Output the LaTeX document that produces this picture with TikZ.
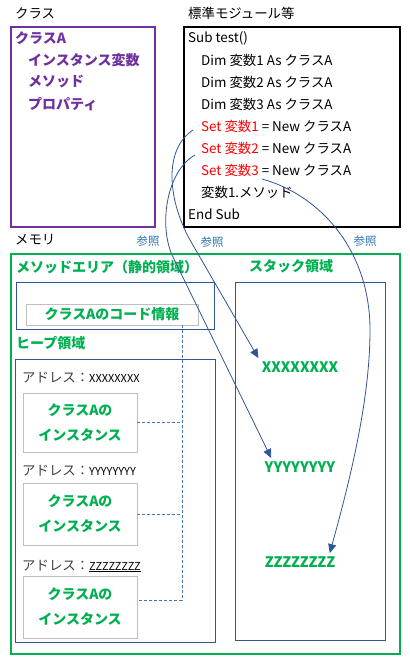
\documentclass[tikz,border=0pt]{standalone}
\usepackage{fontspec}
\setmainfont{Noto Sans CJK JP}
\usetikzlibrary{arrows.meta}
\definecolor{clspurple}{HTML}{7030A0}
\definecolor{memgreen}{HTML}{00B050}
\definecolor{areablue}{HTML}{2F5597}
\definecolor{dashblue}{HTML}{4472C4}
\definecolor{refblue}{HTML}{2E75B6}
\definecolor{boxgray}{HTML}{BFBFBF}
\definecolor{setred}{HTML}{FF0000}
\definecolor{addrgray}{HTML}{404040}
\begin{document}
\begin{tikzpicture}[x=1pt,y=-1pt,
  txt/.style={anchor=west, inner sep=0pt, font=\fontsize{13.4}{15}\selectfont},
  bold/.style={txt, font=\fontsize{14}{15}\selectfont\bfseries},
  ref/.style={inner sep=0pt, text=refblue, font=\fontsize{11.5}{13}\selectfont},
  frame/.style={line width=2pt},
  area/.style={draw=areablue, line width=0.8pt},
  inst/.style={draw=boxgray, line width=0.8pt, minimum width=114pt, align=center,
    text=memgreen, font=\fontsize{14}{25}\selectfont\bfseries},
  val/.style={text=memgreen, font=\fontsize{14.5}{16}\selectfont\bfseries},
  dashline/.style={draw=dashblue, dash pattern=on 3pt off 2pt, line width=0.7pt},
  refarrow/.style={draw=areablue, line width=0.8pt, -{Triangle[length=9pt,width=8pt]}}]
\useasboundingbox (0,0) rectangle (409,660);
% class
\node[txt] (clsTitle) at (15,13) {クラス};
\draw[frame, clspurple] (11,27) rectangle (155,227);
\node[bold, text=clspurple] (clsName) at (15,38) {クラスA};
\node[bold, text=clspurple] (clsVar) at (28,60) {インスタンス変数};
\node[bold, text=clspurple] (clsMeth) at (28,82) {メソッド};
\node[bold, text=clspurple] (clsProp) at (28,104) {プロパティ};
% module
\node[txt] (modTitle) at (188,13) {標準モジュール等};
\draw[frame] (184,27) rectangle (400,227);
\node[txt] (code0) at (188,38) {Sub test()};
\node[txt] (code1) at (201,60) {Dim 変数1 As クラスA};
\node[txt] (code2) at (201,82) {Dim 変数2 As クラスA};
\node[txt] (code3) at (201,104) {Dim 変数3 As クラスA};
\node[txt] (set1) at (201,126) {\textcolor{setred}{Set 変数1} = New クラスA};
\node[txt] (set2) at (201,148) {\textcolor{setred}{Set 変数2} = New クラスA};
\node[txt] (set3) at (201,170) {\textcolor{setred}{Set 変数3} = New クラスA};
\node[txt] (code7) at (201,192) {変数1.メソッド};
\node[txt] (code8) at (188,214) {End Sub};
% memory
\node[txt] (memTitle) at (15,240) {メモリ};
\node[ref] (ref1) at (148,241) {参照};
\node[ref] (ref2) at (212,242) {参照};
\node[ref] (ref3) at (365,241) {参照};
\draw[frame, memgreen] (11,254) rectangle (400,654);
\node[bold, text=memgreen] (methTitle) at (16,267) {メソッドエリア（静的領域）};
\node[bold, text=memgreen] (stackTitle) at (249,266) {スタック領域};
\draw[area] (16,282) rectangle (214,329);
\node[inst, minimum width=172pt, minimum height=21pt, inner sep=0pt] (codeInfo) at (112,314.5) {クラスAのコード情報};
\node[bold, text=memgreen] (heapTitle) at (16,343) {ヒープ領域};
\draw[area] (15,359) rectangle (215,642);
\node[txt, text=addrgray] (addr1) at (22,378) {アドレス：\textcolor{black}{\fontsize{11}{13}\selectfont XXXXXXXX}};
\node[inst, minimum height=59pt] (inst1) at (80,422.5) {クラスAの\\インスタンス};
\node[txt, text=addrgray] (addr2) at (22,471) {アドレス：\textcolor{black}{\fontsize{11}{13}\selectfont YYYYYYYY}};
\node[inst, minimum height=62pt] (inst2) at (80,514) {クラスAの\\インスタンス};
\node[txt, text=addrgray] (addr3) at (22,566) {アドレス：\textcolor{black}{\fontsize{11}{13}\selectfont\underline{ZZZZZZZZ}}};
\node[inst, minimum height=62pt] (inst3) at (80,607) {クラスAの\\インスタンス};
\draw[area] (235,282) rectangle (385,640);
\node[val] (xval) at (300,367) {XXXXXXXX};
\node[val] (yval) at (300,467) {YYYYYYYY};
\node[val] (zval) at (300,562) {ZZZZZZZZ};
% links heap -> code
\coordinate (busTop) at (182,325);
\draw[dashline] (inst1.east) -- (inst1.east -| busTop);
\draw[dashline] (inst2.east) -- (inst2.east -| busTop);
\draw[dashline] (busTop) |- ([yshift=7pt]inst3.east);
% references
\coordinate (s1) at (193,130);
\coordinate (s2) at (195,155);
\coordinate (s3) at (262,179);
\draw[refarrow] (s1) .. controls (163,150) and (168,200) .. (190,240) -- (xval.north west);
\draw[refarrow] (s2) .. controls (168,170) and (158,222) .. (172,255) -- ([xshift=10pt]yval.north west);
\draw[refarrow] (s3) .. controls (320,195) and (370,250) .. (370,330) .. controls (370,400) and (350,480) .. ([xshift=-9pt]zval.north east);
\end{tikzpicture}
\end{document}
